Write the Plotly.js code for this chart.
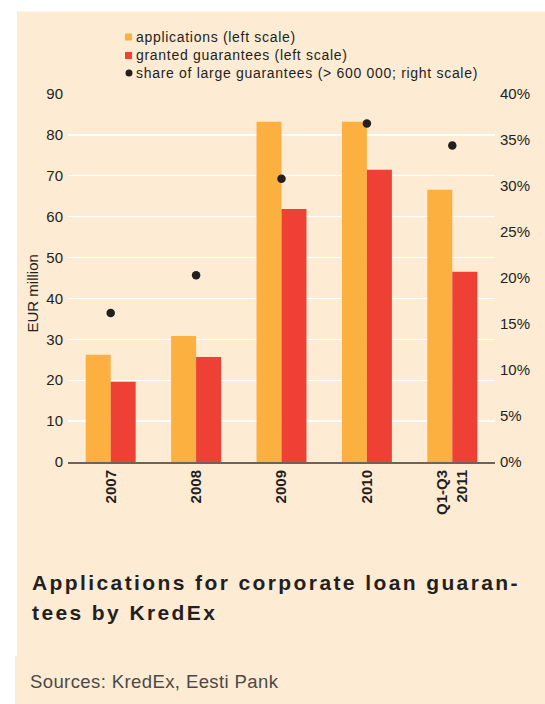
<!DOCTYPE html>
<html>
<head>
<meta charset="utf-8">
<script src="https://cdn.plot.ly/plotly-3.0.1.min.js"></script>
<style>
  html, body { margin: 0; padding: 0; background: #ffffff; }
  #chart { width: 545px; height: 704px; }
</style>
</head>
<body>
<div id="chart"></div>
<script>
// ---- data ----
const categories = ['2007', '2008', '2009', '2010', 'Q1-Q3<br>2011'];
const applications = [26.2, 30.8, 83.2, 83.2, 66.6];
const granted = [19.6, 25.7, 61.9, 71.5, 46.5];
const largeShare = [16.2, 20.3, 30.8, 36.8, 34.4];

const seriesNames = [
  'applications (left scale)',
  'granted guarantees (left scale)',
  'share of large guarantees (> 600 000; right scale)'
];
const leftTicks = [0, 10, 20, 30, 40, 50, 60, 70, 80, 90];
const rightTicks = [0, 5, 10, 15, 20, 25, 30, 35, 40];
const rightTickText = rightTicks.map(v => v + '%');
const titleLines = ['Applications for corporate loan guaran-', 'tees by KredEx'];
const yTitle = 'EUR million';
const sourceText = 'Sources: KredEx, Eesti Pank';

// ---- styles ----
const C_ORANGE = '#FBB040';
const C_RED = '#EE4034';
const C_DOT = '#231F20';
const C_BG = '#FDEBD4';
const C_TEXT = '#231F20';
const FONT = 'Liberation Sans, Arial, Helvetica, sans-serif';

const W = 545, H = 704;
const M = {l: 68, r: 50, t: 94, b: 242};
const PW = W - M.l - M.r, PH = H - M.t - M.b;
const px = x => (x - M.l) / PW;
const py = y => (H - M.b - y) / PH;

function ls(text, sp) { return '<span style="letter-spacing:' + sp + 'px">' + text + '</span>'; }

const traces = [
  {
    type: 'bar', x: categories, y: applications, name: seriesNames[0],
    marker: {color: C_ORANGE}, showlegend: false, hoverinfo: 'skip'
  },
  {
    type: 'bar', x: categories, y: granted, name: seriesNames[1],
    marker: {color: C_RED}, showlegend: false, hoverinfo: 'skip'
  },
  {
    type: 'scatter', mode: 'markers', x: categories, y: largeShare, yaxis: 'y2',
    name: seriesNames[2], marker: {color: C_DOT, size: 8.5}, showlegend: false, hoverinfo: 'skip'
  }
];

const shapes = [
  // white outer strips around the beige panel
  {type: 'rect', xref: 'paper', yref: 'paper', x0: px(0), x1: px(W), y0: py(0), y1: py(11.5), fillcolor: '#ffffff', line: {width: 0}, layer: 'below'},
  {type: 'rect', xref: 'paper', yref: 'paper', x0: px(0), x1: px(17), y0: py(0), y1: py(656), fillcolor: '#ffffff', line: {width: 0}, layer: 'below'},
  {type: 'rect', xref: 'paper', yref: 'paper', x0: px(0), x1: px(15), y0: py(656), y1: py(H), fillcolor: '#ffffff', line: {width: 0}, layer: 'below'},
  // legend keys
  {type: 'rect', xref: 'paper', yref: 'paper', x0: px(125), x1: px(132), y0: py(33.5), y1: py(40.5), fillcolor: C_ORANGE, line: {width: 0}},
  {type: 'rect', xref: 'paper', yref: 'paper', x0: px(125), x1: px(132), y0: py(52), y1: py(59), fillcolor: C_RED, line: {width: 0}},
  {type: 'circle', xref: 'paper', yref: 'paper', x0: px(125.5), x1: px(132.5), y0: py(69.5), y1: py(76.5), fillcolor: C_DOT, line: {width: 0}}
];

const annotations = [
  {xref: 'paper', yref: 'paper', x: px(134), y: py(37), xanchor: 'left', yanchor: 'middle', showarrow: false,
   text: ls(seriesNames[0], 0.7), font: {family: FONT, size: 14, color: C_TEXT}},
  {xref: 'paper', yref: 'paper', x: px(134), y: py(55.5), xanchor: 'left', yanchor: 'middle', showarrow: false,
   text: ls(seriesNames[1], 0.7), font: {family: FONT, size: 14, color: C_TEXT}},
  {xref: 'paper', yref: 'paper', x: px(134), y: py(73), xanchor: 'left', yanchor: 'middle', showarrow: false,
   text: ls(seriesNames[2], 0.7), font: {family: FONT, size: 14, color: C_TEXT}},
  {xref: 'paper', yref: 'paper', x: px(32), y: py(293.5), xanchor: 'center', yanchor: 'middle', showarrow: false,
   textangle: -90, text: yTitle, font: {family: FONT, size: 15, color: C_TEXT}},
  {xref: 'paper', yref: 'paper', x: px(30), y: py(582), xanchor: 'left', yanchor: 'middle', showarrow: false,
   text: '<b>' + ls(titleLines[0], 2.4) + '</b>', font: {family: FONT, size: 21, color: C_TEXT}},
  {xref: 'paper', yref: 'paper', x: px(30), y: py(612), xanchor: 'left', yanchor: 'middle', showarrow: false,
   text: '<b>' + ls(titleLines[1], 2.4) + '</b>', font: {family: FONT, size: 21, color: C_TEXT}},
  {xref: 'paper', yref: 'paper', x: px(28), y: py(681.5), xanchor: 'left', yanchor: 'middle', showarrow: false,
   text: ls(sourceText, 0.4), font: {family: FONT, size: 18.5, color: '#4a4a4a'}}
];

const layout = {
  width: W, height: H,
  margin: M,
  paper_bgcolor: C_BG,
  plot_bgcolor: C_BG,
  font: {family: FONT, color: C_TEXT},
  barmode: 'group',
  bargap: 0.415,
  bargroupgap: 0,
  showlegend: false,
  xaxis: {
    type: 'category',
    tickangle: -90,
    tickfont: {family: FONT, size: 15, color: C_TEXT, weight: 'bold'},
    showgrid: false,
    showline: true, linecolor: '#6E635A', linewidth: 2,
    ticks: '', fixedrange: true
  },
  yaxis: {
    range: [0, 90], tickvals: leftTicks,
    showgrid: true, gridcolor: '#ffffff', gridwidth: 1.3,
    zeroline: false, showline: false, ticks: '',
    tickfont: {family: FONT, size: 15, color: C_TEXT},
    ticklabelstandoff: 4, fixedrange: true
  },
  yaxis2: {
    range: [0, 40], overlaying: 'y', side: 'right',
    tickvals: rightTicks, ticktext: rightTickText,
    showgrid: false, zeroline: false, showline: false, ticks: '',
    tickfont: {family: FONT, size: 15, color: C_TEXT},
    ticklabelstandoff: 4, fixedrange: true
  },
  shapes: shapes,
  annotations: annotations
};

Plotly.newPlot('chart', traces, layout, {displayModeBar: false, staticPlot: true});
</script>
</body>
</html>
